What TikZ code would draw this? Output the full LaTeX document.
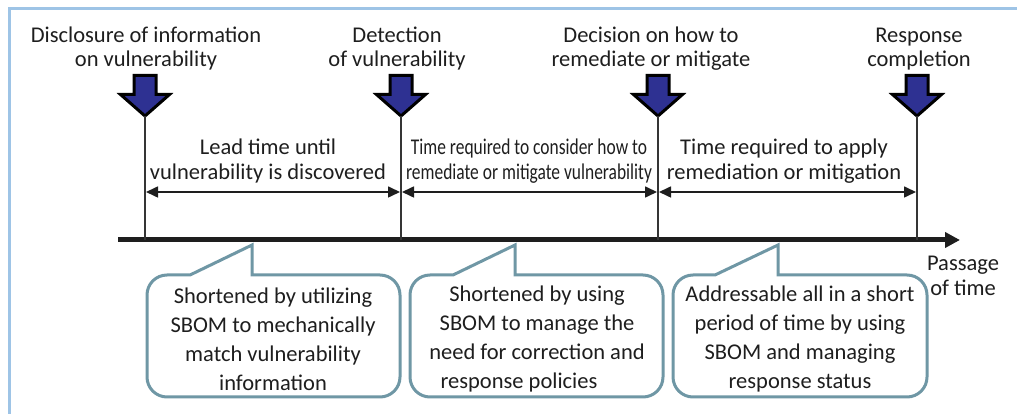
\documentclass[tikz,border=0pt]{standalone}
\usepackage{fontspec}
\setmainfont{Carlito}
\newfontfamily\narrowfont{Carlito}[FakeStretch=0.775]
\usetikzlibrary{arrows.meta}

\definecolor{framecol}{HTML}{9EC4E6}
\definecolor{evblue}{HTML}{2E3192}
\definecolor{calloutcol}{HTML}{6F97A5}
\definecolor{inkcol}{HTML}{1E1E1E}

% event marker: thick blue down arrow ending at the given x, tip at y=298
\newcommand\eventmark[2]{%
  \coordinate (#1top) at (#2,338.5);
  \coordinate (#1tip) at (#2,298);
  \coordinate (#1axis) at (#2,174);
  \coordinate (#1span) at (#2,222);
  \draw[evarrow] (#2-11,338.5) -- (#2+11,338.5) -- (#2+11,319.5) -- (#2+24.5,319.5)
        -- (#1tip) -- (#2-24.5,319.5) -- (#2-11,319.5) -- cycle;
  \draw[tickline] (#1tip) -- (#1axis);
}

% speech balloon: left, right, start of pointer, x of pointer tip
\newcommand\balloon[5]{%
  \coordinate (#1tip) at (#5,169);
  \draw[callout] (#4,139) -- (#1tip) -- (#5,139) -- (#3-20,139)
     arc[start angle=90,end angle=0,radius=20] -- (#3,37)
     arc[start angle=0,end angle=-90,radius=20] -- (#2+20,17)
     arc[start angle=270,end angle=180,radius=20] -- (#2,119)
     arc[start angle=180,end angle=90,radius=20] -- cycle;
}

\begin{document}
\begin{tikzpicture}[x=1pt,y=1pt,
    frame/.style={draw=framecol,line width=3pt},
    evarrow/.style={fill=evblue,draw=black,line width=3pt,line join=miter},
    tickline/.style={draw=inkcol!90,line width=2pt},
    timeaxis/.style={draw=inkcol,line width=5pt,-{Triangle[length=15pt,width=15pt]}},
    span/.style={draw=inkcol,line width=1.6pt,{Triangle[length=12pt,width=11pt]}-{Triangle[length=12pt,width=11pt]}},
    callout/.style={draw=calloutcol,line width=3pt,fill=white,line join=miter},
    lab/.style={text=inkcol,font=\fontsize{22.5}{24}\selectfont,align=center,inner sep=0pt},
    midlab/.style={text=inkcol,font=\fontsize{22.5}{25}\selectfont,align=center,inner sep=0pt},
    narrowlab/.style={text=inkcol,font=\narrowfont\fontsize{22.5}{25}\selectfont,align=center,inner sep=0pt},
    note/.style={text=inkcol,font=\fontsize{22.5}{29}\selectfont,align=center,inner sep=0pt}]

\useasboundingbox (0,0) rectangle (1017,414);

% frame
\draw[frame] (9,0) -- (9,405) -- (1017,405);

% time axis
\coordinate (axstart) at (118,174);
\coordinate (axend) at (960,174);
\draw[timeaxis] (axstart) -- (axend);

% events
\eventmark{e1}{145}
\eventmark{e2}{401}
\eventmark{e3}{658}
\eventmark{e4}{917}

% event labels
\node[lab] (l1) at (146,365) {Disclosure of information\\on vulnerability};
\node[lab] (l2) at (397,365) {Detection\\of vulnerability};
\node[lab] (l3) at (651,365) {Decision on how to\\remediate or mitigate};
\node[lab] (l4) at (919,365) {Response\\completion};

% intervals
\draw[span] ([xshift=1pt]e1span) -- ([xshift=-1pt]e2span);
\draw[span] ([xshift=1pt]e2span) -- ([xshift=-1pt]e3span);
\draw[span] ([xshift=1pt]e3span) -- ([xshift=-1pt]e4span);

\node[midlab] (m1) at (268,253) {Lead time until\\vulnerability is discovered};
\node[narrowlab] (m2) at (529,253) {Time required to consider how to\\remediate or mitigate vulnerability};
\node[midlab] (m3) at (784,253) {Time required to apply\\remediation or mitigation};

% balloons
\balloon{c1}{147}{400}{190}{252}
\balloon{c2}{410}{663}{453}{515}
\balloon{c3}{673}{927}{715}{778}

\node[note] (n1) at (273,75) {Shortened by utilizing\\SBOM to mechanically\\match vulnerability\\information};
\node[note] (n2) at (537,75) {Shortened by using\\SBOM to manage the\\need for correction and\\response policies\hspace*{36pt}};
\node[note] (n3) at (800,75) {Addressable all in a short\\period of time by using\\SBOM and managing\\response status};

\node[midlab] (pt) at (963,138) {Passage\\of time};

\end{tikzpicture}
\end{document}
